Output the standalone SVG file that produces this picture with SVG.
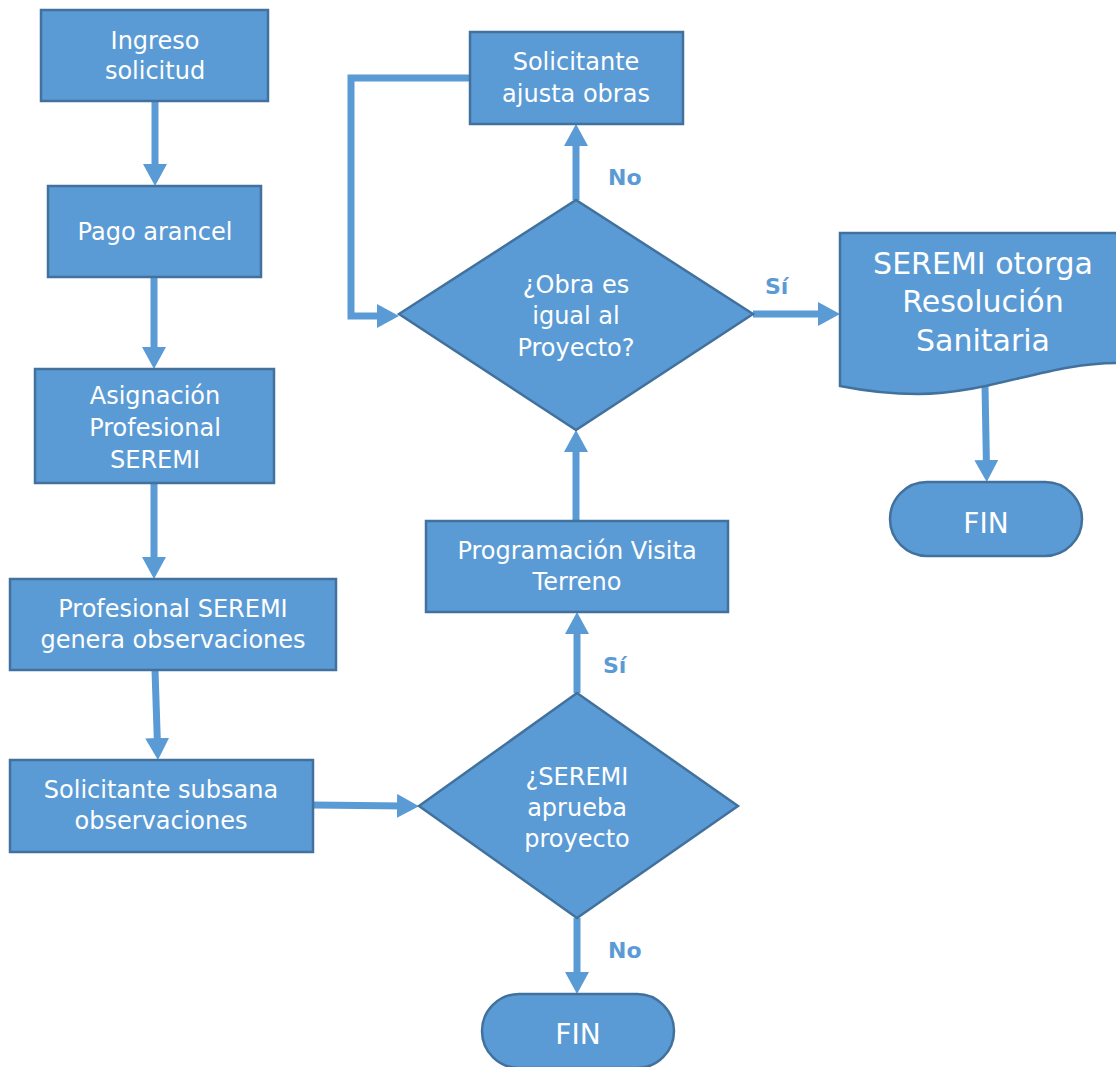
<svg xmlns="http://www.w3.org/2000/svg" width="1116" height="1067" viewBox="0 0 1116 1067">
<defs>
<style>
.n{fill:#5B9BD5;stroke:#41719C;stroke-width:2.5}
.t{fill:#fff;font-family:"DejaVu Sans",Verdana,sans-serif;font-size:24px;text-anchor:middle}
.tb{font-size:30px}
.tf{font-size:28px}
.c{fill:none;stroke:#5B9BD5;stroke-width:7}
.l{fill:#5B9BD5;font-family:"DejaVu Sans",Verdana,sans-serif;font-size:22px;font-weight:bold}
</style>
<marker id="ah" markerUnits="userSpaceOnUse" markerWidth="22" markerHeight="24" refX="8" refY="12" orient="auto">
<path d="M0,0 L22,12 L0,24 Z" fill="#5B9BD5"/>
</marker>
</defs>
<rect width="1116" height="1067" fill="#fff"/>
<g id="connectors">
<path class="c" d="M155,101 V172" marker-end="url(#ah)"/>
<path class="c" d="M154,277 V355" marker-end="url(#ah)"/>
<path class="c" d="M154,483 V565" marker-end="url(#ah)"/>
<path class="c" d="M155,670 L157.5,746" marker-end="url(#ah)"/>
<path class="c" d="M313,805 L405,806" marker-end="url(#ah)"/>
<path class="c" d="M577,693 V626" marker-end="url(#ah)"/>
<path class="c" d="M577,918 V980" marker-end="url(#ah)"/>
<path class="c" d="M576,521 V444" marker-end="url(#ah)"/>
<path class="c" d="M576,200 V138" marker-end="url(#ah)"/>
<path class="c" d="M470,78 H351 V316 H385" marker-end="url(#ah)"/>
<path class="c" d="M753,314 H826" marker-end="url(#ah)"/>
<path class="c" d="M985,386 L986.5,468" marker-end="url(#ah)"/>
<text class="l" x="603" y="673">Sí</text>
<text class="l" x="608" y="958">No</text>
<text class="l" x="608" y="185">No</text>
<text class="l" x="765" y="294">Sí</text>
</g>
<g id="n1"><rect class="n" x="41" y="10" width="227" height="91"/><text class="t" x="155" y="49">Ingreso</text><text class="t" x="155" y="79">solicitud</text></g>
<g id="n2"><rect class="n" x="48" y="186" width="213" height="91"/><text class="t" x="155" y="240">Pago arancel</text></g>
<g id="n3"><rect class="n" x="35" y="369" width="239" height="114"/><text class="t" x="155" y="404">Asignación</text><text class="t" x="155" y="436">Profesional</text><text class="t" x="155" y="468">SEREMI</text></g>
<g id="n4"><rect class="n" x="10" y="579" width="326" height="91"/><text class="t" x="173" y="617">Profesional SEREMI</text><text class="t" x="173" y="648">genera observaciones</text></g>
<g id="n5"><rect class="n" x="10" y="760" width="303" height="92"/><text class="t" x="161" y="798">Solicitante subsana</text><text class="t" x="161" y="829">observaciones</text></g>
<g id="n6"><path class="n" d="M419,806 L577,693 L738,806 L577,918 Z"/><text class="t" x="577" y="785">¿SEREMI</text><text class="t" x="577" y="816">aprueba</text><text class="t" x="577" y="847">proyecto</text></g>
<g id="n7"><rect class="n" x="482" y="994" width="192" height="74" rx="37"/><text class="t tf" x="578" y="1044">FIN</text></g>
<g id="n8"><rect class="n" x="426" y="521" width="302" height="91"/><text class="t" x="577" y="559">Programación Visita</text><text class="t" x="577" y="590">Terreno</text></g>
<g id="n9"><path class="n" d="M399,314 L576,200 L753,314 L576,430 Z"/><text class="t" x="576" y="293">¿Obra es</text><text class="t" x="576" y="324">igual al</text><text class="t" x="576" y="356">Proyecto?</text></g>
<g id="n10"><rect class="n" x="470" y="32" width="213" height="92"/><text class="t" x="576" y="70">Solicitante</text><text class="t" x="576" y="102">ajusta obras</text></g>
<g id="n11"><path class="n" d="M840,233 H1120 V363 C1050,362 990,394 918,394 C885,394 860,390 840,386 Z"/><text class="t tb" x="983" y="274">SEREMI otorga</text><text class="t tb" x="983" y="312">Resolución</text><text class="t tb" x="983" y="351">Sanitaria</text></g>
<g id="n12"><rect class="n" x="890" y="482" width="192" height="74" rx="37"/><text class="t tf" x="986" y="533">FIN</text></g>
</svg>
